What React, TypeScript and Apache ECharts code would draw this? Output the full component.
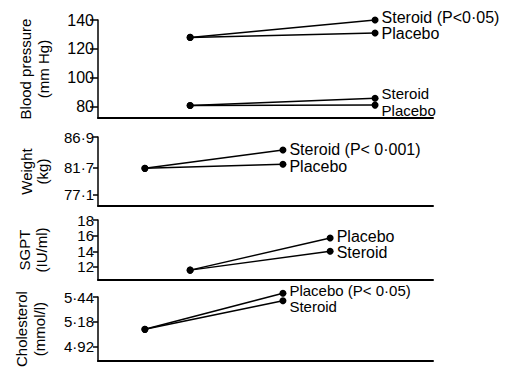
import React, { useEffect, useRef } from "react";
import * as echarts from "echarts";

// x positions (arbitrary time scale 0..100)
const bpTimes = [27.5, 82.7];
const weightTimes = [14, 55.2];
const sgptTimes = [27.5, 69.3];
const cholTimes = [14, 55.2];

// Blood pressure (mm Hg)
const bpSystolicSteroid = [128, 140];
const bpSystolicPlacebo = [128, 131];
const bpDiastolicSteroid = [81, 86];
const bpDiastolicPlacebo = [81, 81.3];
const bpTicks = [80, 100, 120, 140];

// Weight (kg)
const weightSteroid = [81.6, 84.7];
const weightPlacebo = [81.6, 82.3];
const weightTicks = [77.1, 81.7, 86.9];

// SGPT (IU/ml)
const sgptPlacebo = [11.6, 15.7];
const sgptSteroid = [11.6, 14.0];
const sgptTicks = [12, 14, 16, 18];

// Cholesterol (mmol/l)
const cholPlacebo = [5.1, 5.48];
const cholSteroid = [5.1, 5.4];
const cholTicks = [4.92, 5.18, 5.44];

const FONT = "Liberation Sans";

function makeSeries(
  gridIdx: number,
  xs: number[],
  ys: number[],
  label: string,
  offsetY: number,
  fontSize = 16
) {
  const data: any[] = xs.map((x, i) => {
    const v = [x, ys[i]];
    if (i === xs.length - 1) {
      return {
        value: v,
        label: {
          show: true,
          position: "right",
          distance: 3,
          offset: [0, offsetY],
          formatter: label,
          fontFamily: FONT,
          fontSize,
          color: "#000",
        },
      };
    }
    return { value: v };
  });
  return {
    type: "line",
    xAxisIndex: gridIdx,
    yAxisIndex: gridIdx,
    data,
    clip: false,
    symbol: "circle",
    symbolSize: 7,
    itemStyle: { color: "#000" },
    lineStyle: { color: "#000", width: 1.5 },
    label: { show: false },
  };
}

function yAxis(
  gridIdx: number,
  min: number,
  max: number,
  ticks: number[],
  fmt: (v: number) => string,
  name: string,
  nameGap: number,
  labelSize: number,
  tickLen: number,
  lineHeight: number
) {
  return {
    type: "value",
    gridIndex: gridIdx,
    min,
    max,
    name,
    nameLocation: "middle",
    nameRotate: 90,
    nameGap,
    nameTextStyle: {
      fontFamily: FONT,
      fontSize: 15,
      color: "#000",
      lineHeight,
      align: "center",
    },
    axisLine: { show: true, lineStyle: { color: "#000", width: 1.5 } },
    axisTick: {
      show: true,
      length: tickLen,
      customValues: ticks,
      lineStyle: { color: "#000", width: 1.5 },
    },
    axisLabel: {
      customValues: ticks,
      formatter: fmt,
      fontFamily: FONT,
      fontSize: labelSize,
      color: "#000",
      margin: 4,
    },
    splitLine: { show: false },
  };
}

function xAxis(gridIdx: number) {
  return {
    type: "value",
    gridIndex: gridIdx,
    min: 0,
    max: 100,
    axisLine: { show: true, onZero: false, lineStyle: { color: "#000", width: 2 } },
    axisTick: { show: false },
    axisLabel: { show: false },
    splitLine: { show: false },
  };
}

const dot = (d: number) => (v: number) => v.toFixed(d).replace(".", "·");

export default function App() {
  const ref = useRef<HTMLDivElement>(null);
  useEffect(() => {
    if (!ref.current) return;
    const chart = echarts.init(ref.current, null, { renderer: "svg" });
    chart.setOption({
      animation: false,
      backgroundColor: "#fff",
      grid: [
        { left: 98, right: 75, top: 20, height: 98 },
        { left: 98, right: 75, top: 137, height: 69 },
        { left: 98, right: 75, top: 220, height: 60 },
        { left: 98, right: 75, top: 297, height: 70 },
      ],
      xAxis: [xAxis(0), xAxis(1), xAxis(2), xAxis(3)],
      yAxis: [
        yAxis(0, 72.4, 140, bpTicks, (v) => String(Math.round(v)), "Blood pressure\n(mm Hg)", 46, 16, 8, 18),
        yAxis(1, 75.24, 86.9, weightTicks, dot(1), "Weight\n(kg)", 48, 15, 5, 16),
        yAxis(2, 10.34, 18, sgptTicks, (v) => String(Math.round(v)), "SGPT\n(IU/ml)", 48, 15, 5, 17),
        yAxis(3, 4.766, 5.44, cholTicks, dot(2), "Cholesterol\n(mmol/l)", 50, 15, 5, 18),
      ],
      series: [
        makeSeries(0, bpTimes, bpSystolicSteroid, "Steroid (P<0·05)", -3),
        makeSeries(0, bpTimes, bpSystolicPlacebo, "Placebo", 0),
        makeSeries(0, bpTimes, bpDiastolicSteroid, "Steroid", -5, 15),
        makeSeries(0, bpTimes, bpDiastolicPlacebo, "Placebo", 5, 15),
        makeSeries(1, weightTimes, weightSteroid, "Steroid (P< 0·001)", -1),
        makeSeries(1, weightTimes, weightPlacebo, "Placebo", 2),
        makeSeries(2, sgptTimes, sgptPlacebo, "Placebo", -2),
        makeSeries(2, sgptTimes, sgptSteroid, "Steroid", 1),
        makeSeries(3, cholTimes, cholPlacebo, "Placebo (P< 0·05)", -3, 15),
        makeSeries(3, cholTimes, cholSteroid, "Steroid", 6, 15),
      ],
    });
    return () => chart.dispose();
  }, []);
  return (
    <div
      ref={ref}
      style={{ position: "fixed", left: 0, top: 0, width: 508, height: 370 }}
    />
  );
}
